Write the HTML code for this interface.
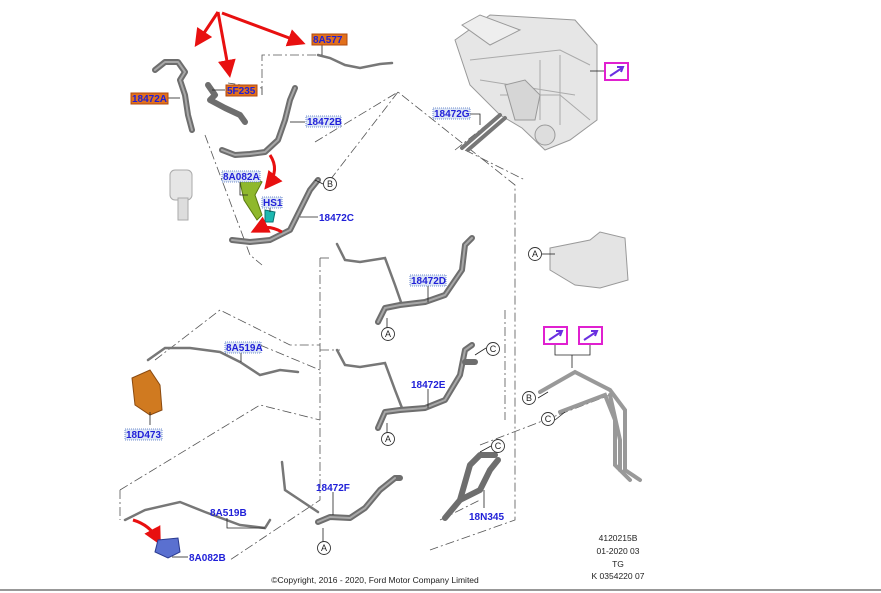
<!DOCTYPE html>
<html><head><meta charset="utf-8"><style>
body{margin:0;background:#fff;}
svg{display:block;font-family:"Liberation Sans",Arial,sans-serif;}
.lb{font-size:10px;fill:#1f1fd8;font-weight:bold;}
.bx{fill:#dde6f5;stroke:#4a6fc0;stroke-width:0.8;stroke-dasharray:1 1;}
.or{fill:#e2701c;stroke:#b04a10;stroke-width:1;}
.dd{fill:none;stroke:#555;stroke-width:0.8;stroke-dasharray:9 3 2 3;}
.h{fill:none;stroke:#6e6e6e;stroke-width:6;stroke-linecap:round;stroke-linejoin:round;}
.hi{fill:none;stroke:#a8a8a8;stroke-width:2;stroke-linecap:round;stroke-linejoin:round;}
.t{fill:none;stroke:#777;stroke-width:2.5;stroke-linecap:round;}
.ld{stroke:#222;stroke-width:0.8;fill:none;}
.c{fill:#fff;stroke:#333;stroke-width:0.9;}
.ct{font-size:9px;fill:#222;text-anchor:middle;}
.mg{fill:#fff;stroke:#e020d0;stroke-width:2;}
.ra{stroke:#e81010;stroke-width:3;fill:none;}
</style></head><body>
<svg width="881" height="593" viewBox="0 0 881 593">
<defs><marker id="ar" markerWidth="6" markerHeight="6" refX="4" refY="3" orient="auto"><path d="M0,0L6,3L0,6z" fill="#e81010"/></marker></defs>

<!-- dash-dot lines -->
<path class="dd" d="M262,95 L262,55 L318,55"/>
<path class="dd" d="M262,95 L262,88 L228,83"/>
<path class="dd" d="M205,135 L250,255 L262,265"/>
<path class="dd" d="M315,142 L398,92 L515,185 L515,520 L430,550"/>
<path class="dd" d="M398,92 L330,180"/>
<path class="dd" d="M320,258 L320,500 L230,560"/>
<path class="dd" d="M320,258 L330,258"/>
<path class="dd" d="M320,350 L340,350"/>
<path class="dd" d="M505,310 L505,420"/>
<path class="dd" d="M260,345 L320,370"/>
<path class="dd" d="M155,360 L220,310 L290,345 L320,345"/>
<path class="dd" d="M120,490 L260,405 L320,420"/>
<path class="dd" d="M120,490 L120,520"/>
<path class="dd" d="M480,445 L610,395"/>
<path class="dd" d="M440,520 L480,500"/>
<path class="dd" d="M455,150 L505,110"/>
<path class="dd" d="M465,150 L525,180"/>

<!-- hoses top-left -->
<path class="h" d="M155,70 L165,62 L178,62 L185,72 L180,80 L185,95 L188,115 L192,130"/>
<path class="hi" d="M155,70 L165,62 L178,62 L185,72 L180,80 L185,95 L188,115 L192,130"/>
<path class="h" d="M208,85 L215,95 L210,100 L225,108 L240,115 L245,122"/>
<path class="t" d="M318,55 L330,58 L345,65 L360,68 L380,64 L392,63"/>
<path class="h" d="M222,150 L235,155 L250,154 L265,152 L278,140 L285,120 L290,100 L295,88"/>
<path class="hi" d="M222,150 L235,155 L250,154 L265,152 L278,140 L285,120 L290,100 L295,88"/>
<path class="h" d="M232,240 L250,242 L270,240 L290,230 L300,210 L310,190 L318,180"/>
<path class="hi" d="M232,240 L250,242 L270,240 L290,230 L300,210 L310,190 L318,180"/>
<!-- pump grey -->
<rect x="170" y="170" width="22" height="30" rx="5" fill="#e6e6e6" stroke="#aaa"/>
<rect x="178" y="198" width="10" height="22" fill="#ddd" stroke="#aaa"/>
<!-- green bracket -->
<path d="M240,182 L255,178 L262,182 L255,195 L262,215 L257,220 L244,200 Z" fill="#8fb82c" stroke="#5a7a10"/>
<path d="M265,210 L275,212 L273,222 L265,222 Z" fill="#1cb8b0" stroke="#0a7070"/>
<!-- red arrows -->
<path class="ra" d="M218,12 L198,42" marker-end="url(#ar)"/>
<path class="ra" d="M218,12 L229,72" marker-end="url(#ar)"/>
<path class="ra" d="M222,13 L300,42" marker-end="url(#ar)"/>
<path class="ra" d="M270,155 Q280,170 268,185" marker-end="url(#ar)"/>
<path class="ra" d="M282,232 Q268,224 256,230" marker-end="url(#ar)"/>
<path class="ra" d="M133,520 Q150,525 158,540" marker-end="url(#ar)"/>

<!-- HVAC unit -->
<path d="M455,40 L490,15 L575,20 L597,45 L597,120 L570,140 L545,150 L522,128 L500,115 L470,85 Z" fill="#e6e6e6" stroke="#999"/>
<path d="M462,25 L480,15 L520,30 L490,45 Z" fill="#eee" stroke="#999"/>
<path d="M470,60 L560,50 L590,65 M480,80 L575,95 M500,95 L560,95 L590,120 M540,60 L540,120 M560,55 L560,125" stroke="#aaa" fill="none"/>
<path d="M505,85 L525,80 L540,95 L535,120 L515,120 Z" fill="#d6d6d6" stroke="#999"/>
<circle cx="545" cy="135" r="10" fill="#ddd" stroke="#999"/>
<path class="t" d="M462,148 L500,115 M468,150 L505,118" style="stroke-width:4"/>
<!-- right A part -->
<path d="M550,248 L590,240 L600,232 L625,238 L628,280 L600,288 L575,285 L550,270 Z" fill="#e4e4e4" stroke="#999"/>
<!-- right tubes -->
<path class="t" d="M540,392 L575,372 L610,390 L625,410 L625,470 L640,480" style="stroke:#999;stroke-width:4"/>
<path class="t" d="M560,412 L605,395 L615,420 L615,465 L630,480" style="stroke:#999;stroke-width:4"/>
<path class="t" d="M610,395 L620,440 L620,470" style="stroke:#999;stroke-width:4"/>
<path class="ld" d="M555,342 L555,355 L590,355 L590,342 M572,355 L572,368"/>

<!-- mid hoses -->
<path class="t" d="M337,244 L345,260 L360,262 L385,258 L395,285 L402,305"/>
<path class="h" d="M378,322 L385,308 L400,305 L425,302 L445,295 L462,270 L465,245 L472,238"/>
<path class="hi" d="M378,322 L385,308 L400,305 L425,302 L445,295 L462,270 L465,245 L472,238"/>
<path class="t" d="M337,350 L345,365 L360,367 L385,363 L395,390 L402,408"/>
<path class="h" d="M378,428 L385,412 L400,410 L425,408 L445,400 L460,375 L465,350 L472,345"/>
<path class="hi" d="M378,428 L385,412 L400,410 L425,408 L445,400 L460,375 L465,350 L472,345"/>
<path class="h" d="M465,362 L475,362"/>
<path class="h" d="M318,522 L330,517 L350,518 L365,508 L380,490 L395,478 L400,478"/>
<path class="hi" d="M318,522 L330,517 L350,518 L365,508 L380,490 L395,478"/>
<path class="t" d="M282,462 L285,490 L300,500 L318,512"/>
<path class="h" d="M445,518 L460,500 L470,465 L480,455 L495,455"/>
<path class="h" d="M460,500 L480,490 L490,470 L498,460"/>
<!-- left mid hoses -->
<path class="t" d="M148,360 L165,348 L190,348 L220,352 L240,362 L260,375 L280,370 L298,372"/>
<path d="M132,378 L150,370 L160,385 L162,410 L150,415 L135,405 Z" fill="#d07a20" stroke="#8a4a10"/>
<path class="t" d="M125,520 L145,510 L180,502 L205,512 L240,525 L265,528 L270,520"/>
<path d="M158,540 L178,538 L180,552 L168,558 L155,552 Z" fill="#5a70d0" stroke="#2a3a90"/>

<!-- leaders -->
<path class="ld" d="M322,40 L322,55"/>
<path class="ld" d="M225,90 L212,90"/>
<path class="ld" d="M167,98 L180,98"/>
<path class="ld" d="M305,122 L290,122"/>
<path class="ld" d="M240,180 L240,195 L248,195"/>
<path class="ld" d="M270,207 L270,212"/>
<path class="ld" d="M318,217 L300,217"/>
<path class="ld" d="M323,184 L315,180"/>
<path class="ld" d="M470,114 L480,114 L480,125"/>
<path class="ld" d="M604,71 L590,71"/>
<path class="ld" d="M428,285 L428,302"/>
<path class="ld" d="M428,389 L428,408"/>
<path class="ld" d="M241,352 L241,362"/>
<path class="ld" d="M150,425 L150,412"/>
<path class="ld" d="M333,492 L333,515"/>
<path class="ld" d="M227,518 L227,528 L265,528"/>
<path class="ld" d="M188,557 L172,557"/>
<path class="ld" d="M484,508 L484,490"/>
<path class="ld" d="M542,254 L555,254"/>
<path class="ld" d="M387,328 L387,318 M387,433 L387,423 M323,542 L323,528"/>
<path class="ld" d="M486,348 L475,355 M538,398 L548,392 M555,420 L565,412 M491,446 L480,452"/>

<!-- labels -->
<rect class="or" x="312" y="34" width="35" height="11"/><text class="lb" x="313" y="43">8A577</text>
<rect class="or" x="226" y="85" width="31" height="11"/><text class="lb" x="227" y="94">5F235</text>
<rect class="or" x="131" y="93" width="37" height="11"/><text class="lb" x="132" y="102">18472A</text>
<rect class="bx" x="306" y="116" width="35" height="11"/><text class="lb" x="307" y="125">18472B</text>
<rect class="bx" x="222" y="171" width="38" height="11"/><text class="lb" x="223" y="180">8A082A</text>
<rect class="bx" x="262" y="197" width="20" height="11"/><text class="lb" x="263" y="206">HS1</text>
<text class="lb" x="319" y="221">18472C</text>
<rect class="bx" x="433" y="108" width="37" height="11"/><text class="lb" x="434" y="117">18472G</text>
<rect class="bx" x="410" y="275" width="36" height="11"/><text class="lb" x="411" y="284">18472D</text>
<text class="lb" x="411" y="388">18472E</text>
<rect class="bx" x="225" y="342" width="36" height="11"/><text class="lb" x="226" y="351">8A519A</text>
<rect class="bx" x="125" y="429" width="37" height="11"/><text class="lb" x="126" y="438">18D473</text>
<text class="lb" x="316" y="491">18472F</text>
<text class="lb" x="210" y="516">8A519B</text>
<text class="lb" x="189" y="561">8A082B</text>
<text class="lb" x="469" y="520">18N345</text>

<!-- circles -->
<g>
<circle class="c" cx="330" cy="184" r="6.5"/><text class="ct" x="330" y="187">B</text>
<circle class="c" cx="535" cy="254" r="6.5"/><text class="ct" x="535" y="257">A</text>
<circle class="c" cx="388" cy="334" r="6.5"/><text class="ct" x="388" y="337">A</text>
<circle class="c" cx="493" cy="349" r="6.5"/><text class="ct" x="493" y="352">C</text>
<circle class="c" cx="388" cy="439" r="6.5"/><text class="ct" x="388" y="442">A</text>
<circle class="c" cx="529" cy="398" r="6.5"/><text class="ct" x="529" y="401">B</text>
<circle class="c" cx="548" cy="419" r="6.5"/><text class="ct" x="548" y="422">C</text>
<circle class="c" cx="498" cy="446" r="6.5"/><text class="ct" x="498" y="449">C</text>
<circle class="c" cx="324" cy="548" r="6.5"/><text class="ct" x="324" y="551">A</text>
</g>
<!-- magenta -->
<rect class="mg" x="605" y="63" width="23" height="17"/><path d="M610,76 L622,68 M617,67 L623,67 L621,72" stroke="#6a30e0" stroke-width="2" fill="none"/>
<rect class="mg" x="544" y="327" width="23" height="17"/><path d="M549,340 L561,332 M556,331 L562,331 L560,336" stroke="#6a30e0" stroke-width="2" fill="none"/>
<rect class="mg" x="579" y="327" width="23" height="17"/><path d="M584,340 L596,332 M591,331 L597,331 L595,336" stroke="#6a30e0" stroke-width="2" fill="none"/>

<g style="font-size:8.5px;fill:#222" text-anchor="middle">
<text x="618" y="541">4120215B</text>
<text x="618" y="554">01-2020 03</text>
<text x="618" y="567">TG</text>
<text x="618" y="579">K 0354220 07</text>
</g>
<text x="375" y="583" style="font-size:8.5px;fill:#222" text-anchor="middle">©Copyright, 2016 - 2020, Ford Motor Company Limited</text>
<line x1="0" y1="590" x2="881" y2="590" stroke="#777" stroke-width="1.5"/>
</svg>
</body></html>
